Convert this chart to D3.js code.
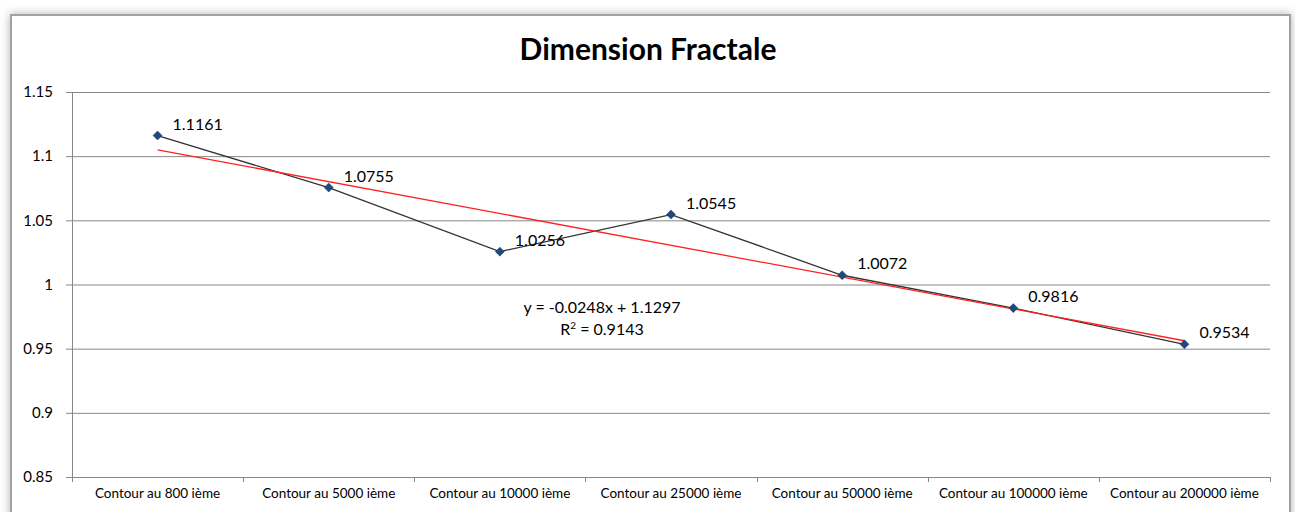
<!DOCTYPE html>
<html>
<head>
<meta charset="utf-8">
<script src="https://cdn.jsdelivr.net/npm/d3@7"></script>
<style>
  body { margin: 0; background: #fff; }
  svg { display: block; }
</style>
</head>
<body>
<svg id="chart" width="1295" height="512"></svg>
<script>
var categories = ["Contour au 800 ième", "Contour au 5000 ième", "Contour au 10000 ième",
                  "Contour au 25000 ième", "Contour au 50000 ième", "Contour au 100000 ième",
                  "Contour au 200000 ième"];
var values = [1.1161, 1.0755, 1.0256, 1.0545, 1.0072, 0.9816, 0.9534];
var yTicks = [0.85, 0.9, 0.95, 1, 1.05, 1.1, 1.15];
var titre = "Dimension Fractale";
var equation = "y = -0.0248x + 1.1297";
var r2 = "0.9143";

var gauche = 72, droite = 1270, haut = 92, bas = 477;
var police = "Lato, 'Open Sans', sans-serif";

var svg = d3.select("#chart");

// ombre du cadre
var defs = svg.append("defs");
var f = defs.append("filter").attr("id", "ombre")
    .attr("x", "-5%").attr("y", "-10%").attr("width", "110%").attr("height", "130%");
f.append("feDropShadow").attr("dx", 0).attr("dy", 0)
    .attr("stdDeviation", 5).attr("flood-color", "#000").attr("flood-opacity", 0.3);

svg.append("rect")
    .attr("x", 11).attr("y", 15)
    .attr("width", 1279).attr("height", 540)
    .attr("fill", "#fff")
    .attr("stroke", "#a2a2a2")
    .attr("stroke-width", 2)
    .attr("filter", "url(#ombre)");

var x = d3.scaleBand()
    .domain(categories)
    .range([gauche, droite]);

var y = d3.scaleLinear()
    .domain([0.85, 1.15])
    .range([bas, haut]);

// grille
svg.append("g")
    .attr("transform", "translate(" + gauche + ",0)")
    .call(d3.axisLeft(y).tickValues(yTicks).tickSize(6).tickFormat(d3.format("")))
    .call(function(g) {
        g.select(".domain").remove();
        g.selectAll(".tick line").attr("x2", droite - gauche).attr("x1", -6)
            .attr("stroke", "#878787");
        g.selectAll(".tick text")
            .attr("x", -19)
            .style("font-family", police)
            .style("font-size", "15px")
            .attr("fill", "#000");
    });

svg.append("line")
    .attr("x1", gauche + 0.5).attr("x2", gauche + 0.5)
    .attr("y1", haut).attr("y2", bas)
    .attr("stroke", "#878787");

// axe des x
svg.append("g")
    .attr("transform", "translate(0," + bas + ")")
    .call(d3.axisBottom(x).tickSize(0))
    .call(function(g) {
        g.select(".domain").attr("stroke", "#878787");
        g.selectAll(".tick text")
            .attr("y", 11)
            .style("font-family", police)
            .style("font-size", "13.5px")
            .attr("fill", "#000");
    });

svg.append("g")
    .selectAll("line")
    .data(d3.range(categories.length + 1))
    .enter().append("line")
    .attr("x1", function(i) { return Math.round(gauche + i * x.step()) + 0.5; })
    .attr("x2", function(i) { return Math.round(gauche + i * x.step()) + 0.5; })
    .attr("y1", bas)
    .attr("y2", bas + 5)
    .attr("stroke", "#878787");

function cx(d, i) { return x(categories[i]) + x.bandwidth() / 2; }

// série
var ligne = d3.line()
    .x(function(d, i) { return cx(d, i); })
    .y(function(d) { return y(d); });

svg.append("path")
    .datum(values)
    .attr("d", ligne)
    .attr("fill", "none")
    .attr("stroke", "#333")
    .attr("stroke-width", 1.3);

// courbe de tendance (régression linéaire)
var xs = d3.range(1, values.length + 1);
var mx = d3.mean(xs), my = d3.mean(values);
var pente = d3.sum(xs, function(v, i) { return (v - mx) * (values[i] - my); }) /
            d3.sum(xs, function(v) { return (v - mx) * (v - mx); });
var origine = my - pente * mx;

svg.append("line")
    .attr("x1", cx(null, 0))
    .attr("y1", y(origine + pente * 1))
    .attr("x2", cx(null, values.length - 1))
    .attr("y2", y(origine + pente * values.length))
    .attr("stroke", "#ff2020")
    .attr("stroke-width", 1.3);

// marqueurs
svg.append("g")
    .selectAll("path")
    .data(values)
    .enter().append("path")
    .attr("d", d3.symbol().type(d3.symbolDiamond2).size(52))
    .attr("transform", function(d, i) { return "translate(" + cx(d, i) + "," + y(d) + ")"; })
    .attr("fill", "#1f497d")
    .attr("stroke", "#1f3f6a")
    .attr("stroke-width", 0.5);

// étiquettes
svg.append("g")
    .selectAll("text")
    .data(values)
    .enter().append("text")
    .attr("x", function(d, i) { return cx(d, i) + 15; })
    .attr("y", function(d) { return y(d) - 6; })
    .style("font-family", police)
    .style("font-size", "16px")
    .attr("fill", "#000")
    .text(function(d) { return d3.format(".4f")(d).replace(/0+$/, ""); });

// équation
var eq = svg.append("text")
    .attr("text-anchor", "middle")
    .style("font-family", police)
    .style("font-size", "16px")
    .attr("fill", "#000");
eq.append("tspan").attr("x", 602).attr("y", 313).text(equation);
var l2 = eq.append("tspan").attr("x", 602).attr("y", 335);
l2.text("R");
l2.append("tspan").attr("dy", -6).style("font-size", "10px").text("2");
l2.append("tspan").attr("dy", 6).text(" = " + r2);

// titre
svg.append("text")
    .attr("x", 648)
    .attr("y", 60)
    .attr("text-anchor", "middle")
    .style("font-family", police)
    .style("font-weight", "bold")
    .style("font-size", "30px")
    .attr("fill", "#000")
    .text(titre);
</script>
</body>
</html>
